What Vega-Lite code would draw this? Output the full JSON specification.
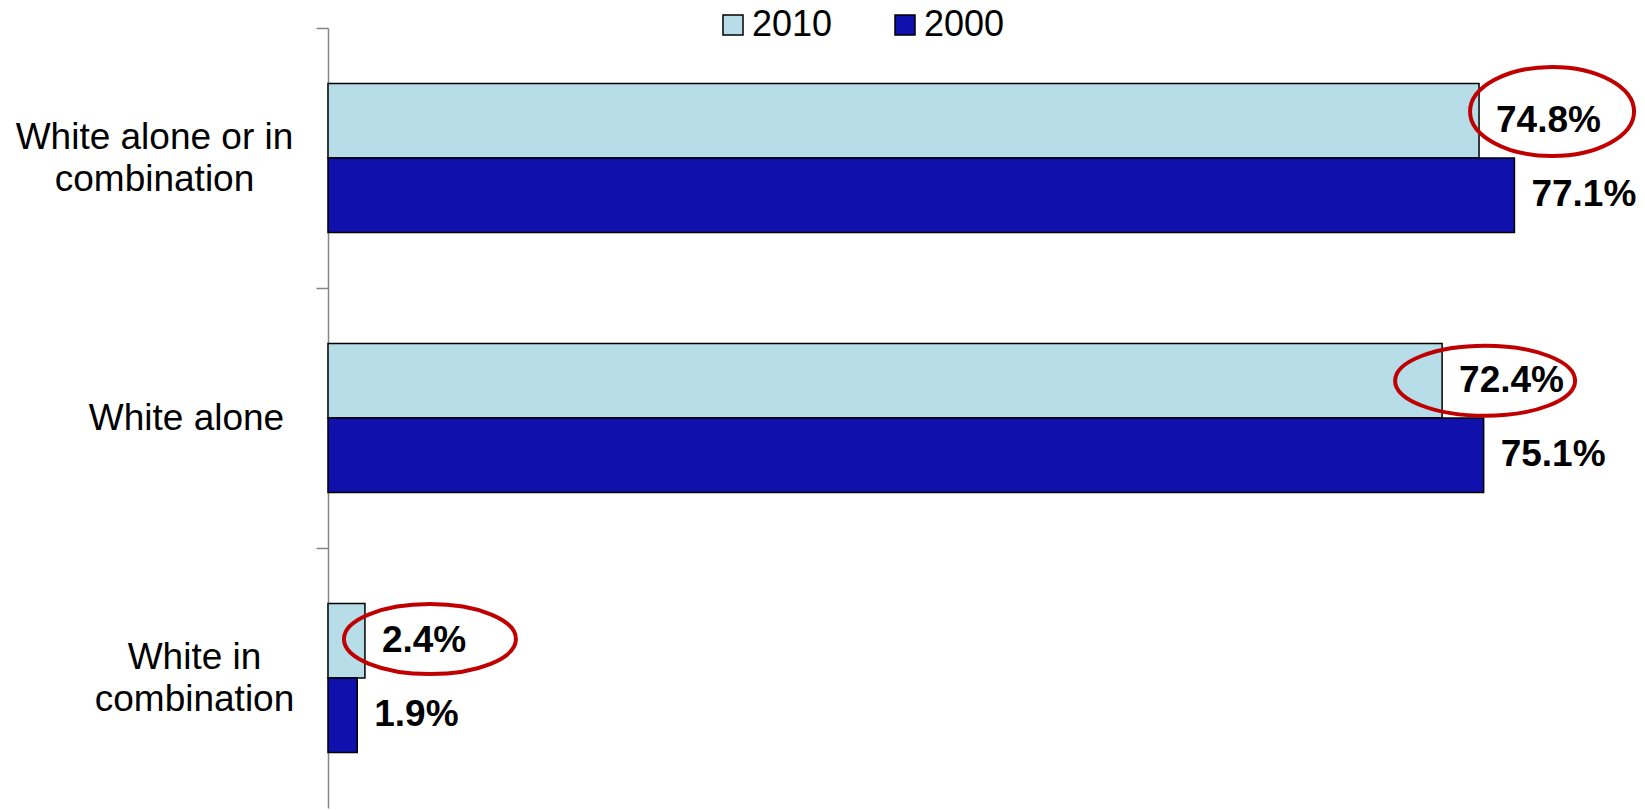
{
  "$schema": "https://vega.github.io/schema/vega-lite/v6.json",
  "width": 1308,
  "height": 780,
  "autosize": "none",
  "padding": {"left": 328, "top": 28, "right": 9, "bottom": 2},
  "background": "white",
  "config": {"view": {"stroke": null}, "font": "Liberation Sans"},
  "data": {"values": [
    {"category": "White alone or in combination", "year": "2010", "value": 0.748},
    {"category": "White alone or in combination", "year": "2000", "value": 0.771},
    {"category": "White alone", "year": "2010", "value": 0.724},
    {"category": "White alone", "year": "2000", "value": 0.751},
    {"category": "White in combination", "year": "2010", "value": 0.024},
    {"category": "White in combination", "year": "2000", "value": 0.019}
  ]},
  "encoding": {
    "y": {
      "field": "category", "type": "nominal",
      "sort": ["White alone or in combination", "White alone", "White in combination"],
      "scale": {"paddingInner": 0.427, "paddingOuter": 0.2135},
      "axis": {
        "title": null,
        "labelExpr": "datum.value == 'White alone or in combination' ? ['White alone or in', 'combination'] : datum.value == 'White in combination' ? ['White in', 'combination'] : datum.value",
        "labelAlign": "center",
        "labelBaseline": "middle",
        "labelPadding": {"condition": [
          {"test": "datum.value == 'White alone or in combination'", "value": 162},
          {"test": "datum.value == 'White alone'", "value": 130}
        ], "value": 122},
        "labelOffset": {"condition": {"test": "datum.value == 'White alone'", "value": 130}, "value": 109},
        "tickOffset": -130,
        "labelFontSize": 37,
        "labelColor": "black",
        "labelLineHeight": 42,
        "labelLimit": 500,
        "domainColor": "#868686",
        "domainWidth": 1.5,
        "tickColor": "#868686",
        "tickWidth": 1.5,
        "tickSize": 12,
        "grid": false
      }
    },
    "x": {"field": "value", "type": "quantitative", "scale": {"domain": [0, 0.85]}, "axis": null},
    "yOffset": {"field": "year", "type": "nominal", "sort": ["2010", "2000"]}
  },
  "layer": [
    {
      "mark": {"type": "bar", "stroke": "black", "strokeWidth": 1.5},
      "encoding": {
        "color": {
          "field": "year", "type": "nominal",
          "scale": {"domain": ["2010", "2000"], "range": ["#B7DEE8", "#1010AD"]},
          "legend": {
            "orient": "none", "legendX": 387, "legendY": -21,
            "direction": "horizontal", "title": null,
            "symbolType": "square", "symbolSize": 400,
            "symbolStrokeColor": "black", "symbolStrokeWidth": 1.5, "symbolOpacity": 1,
            "labelFontSize": 36, "labelColor": "black", "labelOffset": 1,
            "columnPadding": 54, "padding": 0
          }
        }
      }
    },
    {
      "mark": {"type": "text", "dx": 17, "align": "left", "baseline": "middle", "fontWeight": "bold", "fontSize": 37, "color": "black"},
      "encoding": {"text": {"field": "value", "type": "quantitative", "format": ".1%"}}
    },
    {
      "transform": [{"filter": "datum.year === '2010'"}],
      "mark": {"type": "point", "size": 40000, "filled": false, "stroke": "#C00000", "strokeWidth": 4, "opacity": 1},
      "encoding": {
        "shape": {
          "field": "category", "type": "nominal", "legend": null,
          "scale": {
            "domain": ["White alone or in combination", "White alone", "White in combination"],
            "range": [
              "M -0.09 -0.093 C -0.09 -0.3388 0.2771 -0.538 0.73 -0.538 C 1.1829 -0.538 1.55 -0.3388 1.55 -0.093 C 1.55 0.1528 1.1829 0.352 0.73 0.352 C 0.2771 0.352 -0.09 0.1528 -0.09 -0.093 Z",
              "M -0.47 0 C -0.47 -0.1933 -0.0671 -0.35 0.43 -0.35 C 0.9271 -0.35 1.33 -0.1933 1.33 0 C 1.33 0.1933 0.9271 0.35 0.43 0.35 C -0.0671 0.35 -0.47 0.1933 -0.47 0 Z",
              "M -0.21 -0.017 C -0.21 -0.2103 0.175 -0.367 0.65 -0.367 C 1.125 -0.367 1.51 -0.2103 1.51 -0.017 C 1.51 0.1763 1.125 0.333 0.65 0.333 C 0.175 0.333 -0.21 0.1763 -0.21 -0.017 Z"
            ]
          }
        }
      }
    }
  ]
}
